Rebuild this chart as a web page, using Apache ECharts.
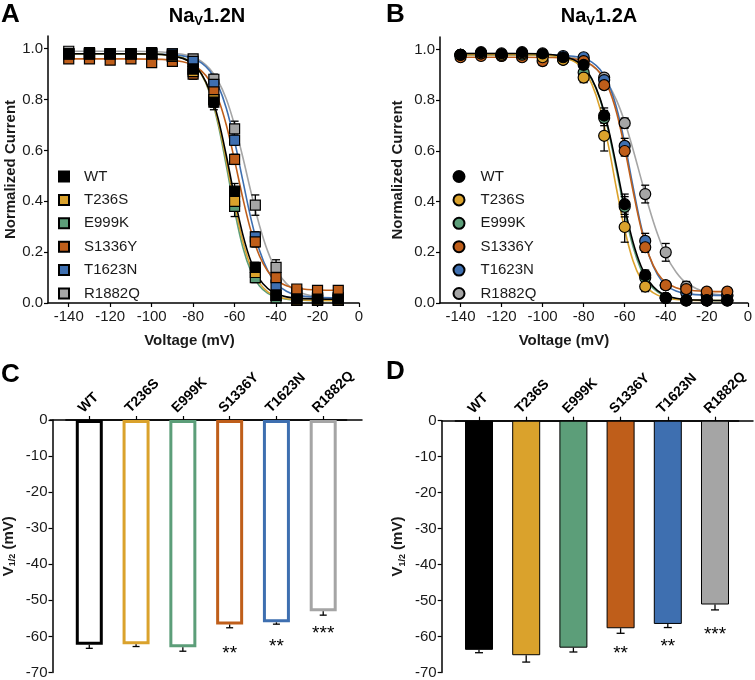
<!DOCTYPE html>
<html><head><meta charset="utf-8">
<script src="https://cdn.jsdelivr.net/npm/echarts@6/dist/echarts.min.js"></script>
<style>html,body{margin:0;padding:0;background:#fff}#c{width:755px;height:680px}</style>
</head><body><div id="c"></div>
<script>
// ---------- data ----------
const variants = ['WT','T236S','E999K','S1336Y','T1623N','R1882Q'];
const colors = ['#000000','#DAA22C','#5C9E79','#BF5E1A','#3E6FB0','#A5A5A5'];
const voltages = [-140,-130,-120,-110,-100,-90,-80,-70,-60,-50,-40,-30,-20,-10];
const xTicksVoltage = [-140,-120,-100,-80,-60,-40,-20,0];
const yTicksCurrent = [0,0.2,0.4,0.6,0.8,1.0];

// Panel A (Nav1.2N) normalized current, mean and SEM
const aWT     = [0.98,0.98,0.98,0.98,0.98,0.975,0.92,0.79,0.44,0.14,0.03,0.015,0.015,0.015];
const aT236S  = [0.98,0.98,0.98,0.98,0.98,0.97,0.91,0.80,0.40,0.12,0.03,0.01,0.01,0.01];
const aE999K  = [0.98,0.98,0.98,0.98,0.98,0.97,0.92,0.80,0.38,0.10,0.02,0.01,0.01,0.01];
const aS1336Y = [0.96,0.96,0.955,0.96,0.945,0.95,0.90,0.83,0.565,0.24,0.10,0.055,0.05,0.05];
const aT1623N = [0.98,0.98,0.98,0.98,0.98,0.98,0.95,0.86,0.64,0.26,0.07,0.03,0.02,0.02];
const aR1882Q = [0.99,0.985,0.98,0.98,0.985,0.98,0.96,0.88,0.685,0.385,0.14,0.04,0.02,0.02];
const aErrWT     = [0.01,0.01,0.01,0.01,0.01,0.01,0.03,0.03,0.03,0.02,0.01,0.005,0.005,0.005];
const aErrT236S  = [0.01,0.01,0.01,0.01,0.01,0.01,0.02,0.02,0.03,0.02,0.01,0.005,0.005,0.005];
const aErrE999K  = [0.01,0.01,0.01,0.01,0.01,0.01,0.02,0.03,0.04,0.02,0.01,0.005,0.005,0.005];
const aErrS1336Y = [0.01,0.01,0.01,0.01,0.015,0.015,0.02,0.02,0.02,0.02,0.02,0.01,0.01,0.01];
const aErrT1623N = [0.01,0.01,0.01,0.01,0.01,0.01,0.01,0.02,0.02,0.02,0.02,0.01,0.005,0.005];
const aErrR1882Q = [0.01,0.01,0.01,0.01,0.01,0.01,0.01,0.02,0.03,0.04,0.03,0.01,0.005,0.005];

// Panel B (Nav1.2A)
const bWT     = [0.98,0.99,0.985,0.99,0.985,0.97,0.94,0.74,0.39,0.11,0.02,0.01,0.01,0.01];
const bT236S  = [0.98,0.985,0.98,0.985,0.97,0.96,0.89,0.66,0.30,0.065,0.02,0.01,0.01,0.01];
const bE999K  = [0.98,0.985,0.98,0.98,0.975,0.965,0.91,0.73,0.38,0.10,0.02,0.01,0.01,0.01];
const bS1336Y = [0.97,0.975,0.975,0.97,0.955,0.96,0.955,0.86,0.60,0.22,0.07,0.055,0.045,0.045];
const bT1623N = [0.98,0.985,0.98,0.985,0.98,0.975,0.97,0.88,0.62,0.245,0.07,0.04,0.03,0.03];
const bR1882Q = [0.98,0.985,0.975,0.975,0.98,0.97,0.96,0.89,0.71,0.43,0.20,0.065,0.035,0.03];
const bErrWT     = [0.01,0.01,0.01,0.01,0.01,0.01,0.02,0.03,0.04,0.02,0.01,0.005,0.005,0.005];
const bErrT236S  = [0.01,0.01,0.01,0.01,0.01,0.01,0.02,0.06,0.06,0.02,0.01,0.005,0.005,0.005];
const bErrE999K  = [0.01,0.01,0.01,0.01,0.01,0.01,0.02,0.03,0.04,0.02,0.01,0.005,0.005,0.005];
const bErrS1336Y = [0.01,0.01,0.01,0.01,0.015,0.01,0.01,0.01,0.02,0.02,0.01,0.01,0.01,0.01];
const bErrT1623N = [0.01,0.01,0.01,0.01,0.01,0.01,0.01,0.01,0.03,0.03,0.01,0.01,0.005,0.005];
const bErrR1882Q = [0.01,0.01,0.01,0.01,0.01,0.01,0.01,0.01,0.02,0.035,0.035,0.02,0.01,0.005];

// Fitted curves at these voltages
const fitV = [-140,-110,-95,-85,-80,-76,-72,-68,-64,-60,-56,-52,-48,-44,-40,-35,-30,-20,-10];
const aFitWT     = [0.98,0.98,0.977,0.962,0.939,0.901,0.834,0.727,0.580,0.415,0.268,0.161,0.094,0.057,0.036,0.024,0.019,0.016,0.015];
const aFitT236S  = [0.98,0.98,0.977,0.963,0.939,0.900,0.830,0.715,0.560,0.388,0.242,0.139,0.078,0.044,0.027,0.017,0.013,0.010,0.010];
const aFitE999K  = [0.98,0.98,0.977,0.964,0.940,0.900,0.826,0.705,0.540,0.364,0.218,0.122,0.067,0.038,0.024,0.015,0.012,0.010,0.010];
const aFitS1336Y = [0.96,0.96,0.958,0.949,0.935,0.913,0.874,0.805,0.700,0.561,0.411,0.280,0.185,0.125,0.090,0.068,0.058,0.051,0.050];
const aFitT1623N = [0.98,0.98,0.978,0.972,0.961,0.944,0.913,0.857,0.766,0.636,0.480,0.328,0.207,0.127,0.078,0.046,0.031,0.022,0.020];
const aFitR1882Q = [0.99,0.99,0.987,0.978,0.967,0.950,0.921,0.874,0.802,0.699,0.572,0.433,0.305,0.203,0.131,0.076,0.046,0.023,0.017];
const bFitWT     = [0.985,0.985,0.980,0.961,0.931,0.885,0.807,0.690,0.538,0.378,0.242,0.145,0.084,0.049,0.031,0.019,0.014,0.011,0.010];
const bFitT236S  = [0.98,0.98,0.976,0.955,0.921,0.864,0.768,0.624,0.451,0.290,0.168,0.093,0.052,0.031,0.020,0.014,0.012,0.010,0.010];
const bFitE999K  = [0.98,0.98,0.976,0.957,0.928,0.882,0.803,0.681,0.524,0.361,0.224,0.131,0.075,0.044,0.027,0.017,0.013,0.010,0.010];
const bFitS1336Y = [0.97,0.97,0.969,0.964,0.955,0.939,0.908,0.851,0.753,0.611,0.445,0.294,0.185,0.118,0.082,0.060,0.051,0.046,0.045];
const bFitT1623N = [0.98,0.98,0.979,0.974,0.966,0.951,0.922,0.867,0.772,0.631,0.462,0.303,0.185,0.112,0.071,0.047,0.037,0.031,0.030];
const bFitR1882Q = [0.985,0.984,0.980,0.969,0.955,0.937,0.908,0.864,0.801,0.715,0.608,0.490,0.373,0.272,0.191,0.122,0.079,0.041,0.030];

// Panels C / D: V1/2 (mV)
const yTicksV = [0,-10,-20,-30,-40,-50,-60,-70];
const cV12 = [-62.3,-62.2,-63.0,-56.7,-56.1,-53.0];
const cErr = [1.0,0.6,1.1,0.9,0.5,1.1];
const dV12 = [-63.7,-65.2,-63.1,-57.7,-56.5,-51.1];
const dErr = [0.8,1.9,1.2,1.4,1.0,1.5];
const stars = ['','','','**','**','***'];
const starPos = [null,null,null,-63.3,-61.5,-58.0];

// ---------- build ----------
const aMeans=[aWT,aT236S,aE999K,aS1336Y,aT1623N,aR1882Q];
const aErrs=[aErrWT,aErrT236S,aErrE999K,aErrS1336Y,aErrT1623N,aErrR1882Q];
const bMeans=[bWT,bT236S,bE999K,bS1336Y,bT1623N,bR1882Q];
const bErrs=[bErrWT,bErrT236S,bErrE999K,bErrS1336Y,bErrT1623N,bErrR1882Q];
const aFits=[aFitWT,aFitT236S,aFitE999K,aFitS1336Y,aFitT1623N,aFitR1882Q];
const bFits=[bFitWT,bFitT236S,bFitE999K,bFitS1336Y,bFitT1623N,bFitR1882Q];

const FONT='Liberation Sans, Arial, sans-serif';
const TXT='#1a1a1a';

function curveXAxis(gi, shiftPad){
  return {type:'value', gridIndex:gi, min:-150, max:0,
    name:'Voltage (mV)', nameLocation:'middle', nameGap:30,
    nameTextStyle:{fontFamily:FONT,fontWeight:'bold',fontSize:15,color:TXT,padding:[0,shiftPad,0,0]},
    axisLine:{onZero:false,lineStyle:{color:'#000',width:1.5}},
    axisTick:{show:true,length:4,lineStyle:{color:'#000',width:1.2},customValues:xTicksVoltage},
    axisLabel:{fontFamily:FONT,fontSize:15,color:TXT,margin:6,customValues:xTicksVoltage},
    splitLine:{show:false}};
}
function curveYAxis(gi, gap){
  return {type:'value', gridIndex:gi, min:0, max:1.05,
    name:'Normalized Current', nameLocation:'middle', nameGap:gap,
    nameTextStyle:{fontFamily:FONT,fontWeight:'bold',fontSize:15,color:TXT},
    axisLine:{show:true,onZero:false,lineStyle:{color:'#000',width:1.5}},
    axisTick:{show:true,length:4,lineStyle:{color:'#000',width:1.2},customValues:yTicksCurrent},
    axisLabel:{fontFamily:FONT,fontSize:15,color:TXT,margin:5,customValues:yTicksCurrent,formatter:v=>v.toFixed(1)},
    splitLine:{show:false}};
}
function barXAxis(gi){
  return {type:'category', gridIndex:gi, data:variants, position:'top',
    axisLine:{onZero:false,lineStyle:{color:'#000',width:1.5}},
    axisTick:{show:true,alignWithLabel:true,length:4,lineStyle:{color:'#000',width:1.2}},
    axisLabel:{rotate:-45,fontFamily:FONT,fontWeight:'bold',fontSize:14,color:'#000',margin:1,interval:0,
      verticalAlign:'bottom',lineHeight:24}};
}
function barYAxis(gi, off){
  return {type:'value', gridIndex:gi, min:-70, max:0, interval:10, offset:off,
    name:'{a|V}{s|1/2}{a| (mV)}', nameLocation:'middle', nameGap:35,
    nameTextStyle:{rich:{a:{fontFamily:FONT,fontWeight:'bold',fontSize:15,color:TXT,lineHeight:18},
                         s:{fontFamily:FONT,fontWeight:'bold',fontSize:9,color:TXT,lineHeight:10,verticalAlign:'bottom'}}},
    axisLine:{show:true,onZero:false,lineStyle:{color:'#000',width:1.5}},
    axisTick:{show:true,length:4,lineStyle:{color:'#000',width:1.2}},
    axisLabel:{fontFamily:FONT,fontSize:15,color:TXT,margin:5},
    splitLine:{show:false}};
}
function extAxes(gi){
  return {x:{type:'value',gridIndex:gi,position:'top',min:0,max:1,axisLine:{onZero:false,lineStyle:{color:'#000',width:1.5}},axisTick:{show:false},axisLabel:{show:false},splitLine:{show:false}},
          y:{type:'value',gridIndex:gi,show:false,axisLine:{onZero:false}}};
}

const series=[];
function curvePanel(prefix, axIdx, means, errs, fits, symbol, size){
  for(let i=variants.length-1;i>=0;i--){
    series.push({type:'line', name:prefix+'fit'+variants[i], xAxisIndex:axIdx, yAxisIndex:axIdx,
      data:fitV.map((v,k)=>[v,fits[i][k]]), smooth:0.35, showSymbol:false,
      lineStyle:{color:colors[i],width:1.6}, z:2, silent:true});
  }
  const ed=[];
  for(let i=variants.length-1;i>=0;i--){
    voltages.forEach((v,k)=>ed.push([v, means[i][k]-errs[i][k], means[i][k]+errs[i][k]]));
  }
  series.push({type:'custom', name:prefix+'err', xAxisIndex:axIdx, yAxisIndex:axIdx, z:3, silent:true,
    data:ed, renderItem:(p,api)=>{
      const x=api.value(0), lo=api.value(1), hi=api.value(2);
      const p1=api.coord([x,hi]), p2=api.coord([x,lo]); const w=4;
      const st={stroke:'#000',lineWidth:1.3};
      return {type:'group',children:[
        {type:'line',shape:{x1:p1[0],y1:p1[1],x2:p2[0],y2:p2[1]},style:st},
        {type:'line',shape:{x1:p1[0]-w,y1:p1[1],x2:p1[0]+w,y2:p1[1]},style:st},
        {type:'line',shape:{x1:p2[0]-w,y1:p2[1],x2:p2[0]+w,y2:p2[1]},style:st}]};
    }});
  for(let i=variants.length-1;i>=0;i--){
    series.push({type:'scatter', name:prefix+variants[i], xAxisIndex:axIdx, yAxisIndex:axIdx,
      data:voltages.map((v,k)=>[v,means[i][k]]), symbol:symbol, symbolSize:size,
      itemStyle:{color:colors[i],borderColor:'#000',borderWidth:1.2,opacity:1}, z:4});
  }
}
curvePanel('A:',0,aMeans,aErrs,aFits,'rect',10);
curvePanel('B:',1,bMeans,bErrs,bFits,'circle',11);

function barPanel(axIdx, vals, errs, filled, capW){
  series.push({type:'bar', name:'bar'+axIdx, xAxisIndex:axIdx, yAxisIndex:axIdx,
    data:vals.map((v,i)=>({value:v, itemStyle: filled ?
      {color:colors[i],borderColor:'#000',borderWidth:1} :
      {color:'#ffffff',borderColor:colors[i],borderWidth:3}})),
    barWidth: filled?28:27, z:2});
  series.push({type:'custom', name:'err'+axIdx, xAxisIndex:axIdx, yAxisIndex:axIdx, z:3, silent:true,
    data:vals.map((v,i)=>[i, v, v-errs[i], starPos[i]===null?0:starPos[i]]),
    renderItem:(p,api)=>{
      const i=api.value(0), m=api.value(1), lo=api.value(2);
      const p1=api.coord([i,m]), p2=api.coord([i,lo]);
      const st={stroke:'#000',lineWidth:1.3};
      const ch=[{type:'line',shape:{x1:p1[0],y1:p1[1],x2:p2[0],y2:p2[1]},style:st},
        {type:'line',shape:{x1:p2[0]-capW,y1:p2[1],x2:p2[0]+capW,y2:p2[1]},style:st}];
      if(stars[i]){
        const ps=api.coord([i,api.value(3)]);
        ch.push({type:'text',x:ps[0],y:ps[1]+5,style:{text:stars[i],align:'center',verticalAlign:'middle',
          font:'19px '+FONT,fill:'#000'}});
      }
      return {type:'group',children:ch};
    }});
}
barPanel(2,cV12,cErr,false,3.5);
barPanel(3,dV12,dErr,true,4);

const extC=extAxes(4), extD=extAxes(5);

const legendBase=(left,prefix,size,pad)=>({orient:'vertical',left:left,top:164,itemWidth:size,itemHeight:size,itemGap:8.4,
  data:variants.map(v=>prefix+v), formatter:n=>n.slice(2), selectedMode:false,
  textStyle:{fontFamily:FONT,fontSize:15,color:TXT,lineHeight:14,padding:[0,0,0,pad]}});

const titleRich={a:{fontFamily:FONT,fontWeight:'bold',fontSize:20,color:TXT,lineHeight:24},
                 b:{fontFamily:FONT,fontWeight:'bold',fontSize:13,color:TXT,lineHeight:14,verticalAlign:'bottom'}};

const option={
  animation:false,
  backgroundColor:'#ffffff',
  textStyle:{fontFamily:FONT},
  grid:[
    {left:48,top:36,width:311,height:267},
    {left:440,top:37,width:311,height:266},
    {left:63.4,top:420,width:283.2,height:256.7},
    {left:455.4,top:420.7,width:283.2,height:254.8},
    {left:50,top:420,width:312,height:256.7},
    {left:441.7,top:420.7,width:311.3,height:254.8}
  ],
  xAxis:[curveXAxis(0,28),curveXAxis(1,60),barXAxis(2),barXAxis(3),extC.x,extD.x],
  yAxis:[curveYAxis(0,30),curveYAxis(1,35),barYAxis(2,13.4),barYAxis(3,13.7),extC.y,extD.y],
  legend:[legendBase(53,'A:',10,10),legendBase(447.5,'B:',11,11)],
  series:series,
  graphic:[
    {type:'text',left:1,top:2,style:{text:'A',font:'bold 26px '+FONT,fill:'#000'}},
    {type:'text',left:386,top:2,style:{text:'B',font:'bold 26px '+FONT,fill:'#000'}},
    {type:'text',left:1,top:362,style:{text:'C',font:'bold 26px '+FONT,fill:'#000'}},
    {type:'text',left:386,top:359,style:{text:'D',font:'bold 26px '+FONT,fill:'#000'}},
    {type:'text',x:207,y:4,style:{text:'{a|Na}{b|V}{a|1.2N}',rich:titleRich,align:'center'}},
    {type:'text',x:599,y:4,style:{text:'{a|Na}{b|V}{a|1.2A}',rich:titleRich,align:'center'}}
  ]
};
const chart=echarts.init(document.getElementById('c'),null,{renderer:'canvas'});
chart.setOption(option);
</script></body></html>
